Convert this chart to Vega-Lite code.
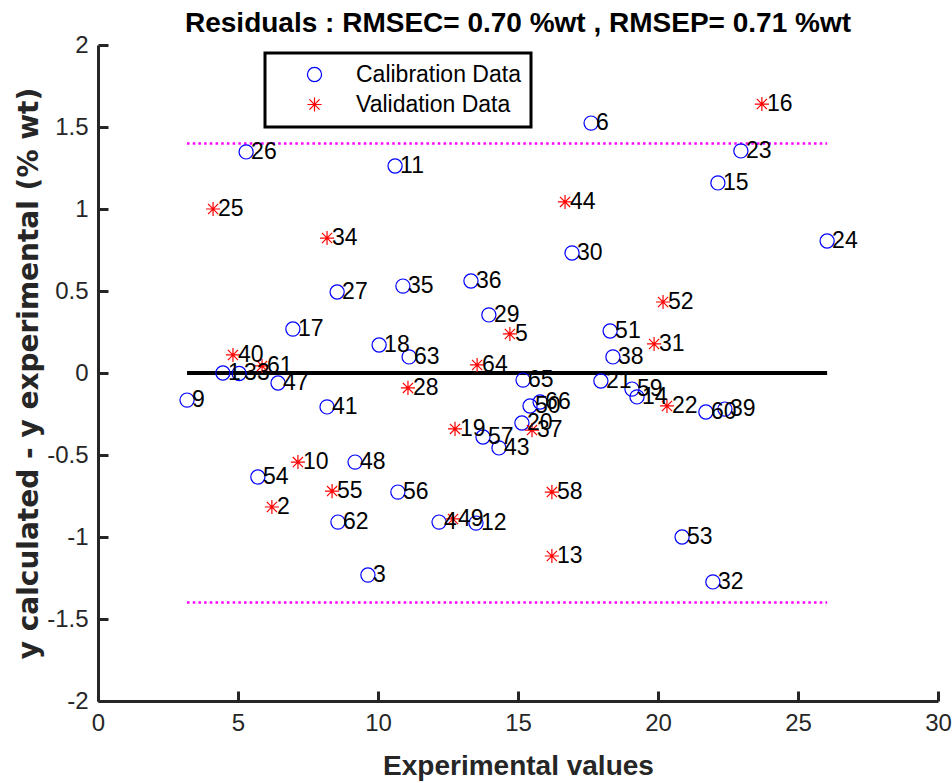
{
  "$schema": "https://vega.github.io/schema/vega-lite/v6.json",
  "width": 840,
  "height": 656,
  "autosize": "none",
  "padding": {"left": 98, "top": 45, "right": 14, "bottom": 82},
  "background": "white",
  "title": {
    "text": "Residuals : RMSEC= 0.70 %wt , RMSEP= 0.71 %wt",
    "font": "Liberation Sans",
    "fontSize": 28,
    "fontWeight": "bold",
    "color": "black",
    "anchor": "middle",
    "frame": "group",
    "offset": -5
  },
  "config": {
    "view": {"stroke": null},
    "font": "Liberation Sans",
    "legend": {"strokeWidth": 3},
    "axis": {
      "grid": false,
      "domainColor": "#262626",
      "domainWidth": 3,
      "tickColor": "#262626",
      "tickWidth": 3,
      "tickSize": -10,
      "labelFlush": false,
      "labelFont": "Liberation Sans",
      "labelFontSize": 24,
      "labelColor": "#262626",
      "titleFont": "Liberation Sans",
      "titleFontSize": 28,
      "titleFontWeight": "bold",
      "titleColor": "#262626"
    }
  },
  "datasets": {
    "pts": [
      {"x": 17.61, "y": 1.524, "id": "6", "set": "Calibration Data"},
      {"x": 5.29, "y": 1.348, "id": "26", "set": "Calibration Data"},
      {"x": 10.61, "y": 1.262, "id": "11", "set": "Calibration Data"},
      {"x": 22.96, "y": 1.354, "id": "23", "set": "Calibration Data"},
      {"x": 22.14, "y": 1.159, "id": "15", "set": "Calibration Data"},
      {"x": 26.04, "y": 0.805, "id": "24", "set": "Calibration Data"},
      {"x": 16.93, "y": 0.732, "id": "30", "set": "Calibration Data"},
      {"x": 13.32, "y": 0.561, "id": "36", "set": "Calibration Data"},
      {"x": 8.54, "y": 0.494, "id": "27", "set": "Calibration Data"},
      {"x": 10.89, "y": 0.53, "id": "35", "set": "Calibration Data"},
      {"x": 13.96, "y": 0.354, "id": "29", "set": "Calibration Data"},
      {"x": 6.96, "y": 0.268, "id": "17", "set": "Calibration Data"},
      {"x": 18.29, "y": 0.256, "id": "51", "set": "Calibration Data"},
      {"x": 10.04, "y": 0.171, "id": "18", "set": "Calibration Data"},
      {"x": 11.11, "y": 0.098, "id": "63", "set": "Calibration Data"},
      {"x": 18.39, "y": 0.098, "id": "38", "set": "Calibration Data"},
      {"x": 4.46, "y": 0.0, "id": "1", "set": "Calibration Data"},
      {"x": 5.04, "y": -0.003, "id": "33", "set": "Calibration Data"},
      {"x": 6.43, "y": -0.061, "id": "47", "set": "Calibration Data"},
      {"x": 3.18, "y": -0.165, "id": "9", "set": "Calibration Data"},
      {"x": 8.18, "y": -0.207, "id": "41", "set": "Calibration Data"},
      {"x": 15.18, "y": -0.043, "id": "65", "set": "Calibration Data"},
      {"x": 17.96, "y": -0.049, "id": "21", "set": "Calibration Data"},
      {"x": 19.07, "y": -0.098, "id": "59", "set": "Calibration Data"},
      {"x": 19.25, "y": -0.146, "id": "14", "set": "Calibration Data"},
      {"x": 21.71, "y": -0.238, "id": "60", "set": "Calibration Data"},
      {"x": 22.39, "y": -0.22, "id": "39", "set": "Calibration Data"},
      {"x": 15.43, "y": -0.201, "id": "50", "set": "Calibration Data"},
      {"x": 15.79, "y": -0.177, "id": "66", "set": "Calibration Data"},
      {"x": 15.14, "y": -0.305, "id": "20", "set": "Calibration Data"},
      {"x": 13.75, "y": -0.39, "id": "57", "set": "Calibration Data"},
      {"x": 14.32, "y": -0.457, "id": "43", "set": "Calibration Data"},
      {"x": 9.18, "y": -0.543, "id": "48", "set": "Calibration Data"},
      {"x": 5.71, "y": -0.634, "id": "54", "set": "Calibration Data"},
      {"x": 10.71, "y": -0.726, "id": "56", "set": "Calibration Data"},
      {"x": 8.57, "y": -0.909, "id": "62", "set": "Calibration Data"},
      {"x": 12.18, "y": -0.909, "id": "4", "set": "Calibration Data"},
      {"x": 13.5, "y": -0.915, "id": "12", "set": "Calibration Data"},
      {"x": 20.86, "y": -1.0, "id": "53", "set": "Calibration Data"},
      {"x": 21.96, "y": -1.274, "id": "32", "set": "Calibration Data"},
      {"x": 9.64, "y": -1.232, "id": "3", "set": "Calibration Data"},
      {"x": 23.71, "y": 1.64, "id": "16", "set": "Validation Data"},
      {"x": 4.11, "y": 1.0, "id": "25", "set": "Validation Data"},
      {"x": 16.68, "y": 1.043, "id": "44", "set": "Validation Data"},
      {"x": 8.18, "y": 0.823, "id": "34", "set": "Validation Data"},
      {"x": 20.18, "y": 0.433, "id": "52", "set": "Validation Data"},
      {"x": 14.71, "y": 0.238, "id": "5", "set": "Validation Data"},
      {"x": 19.86, "y": 0.177, "id": "31", "set": "Validation Data"},
      {"x": 4.82, "y": 0.11, "id": "40", "set": "Validation Data"},
      {"x": 5.86, "y": 0.043, "id": "61", "set": "Validation Data"},
      {"x": 13.54, "y": 0.049, "id": "64", "set": "Validation Data"},
      {"x": 11.07, "y": -0.091, "id": "28", "set": "Validation Data"},
      {"x": 20.32, "y": -0.201, "id": "22", "set": "Validation Data"},
      {"x": 12.75, "y": -0.341, "id": "19", "set": "Validation Data"},
      {"x": 15.5, "y": -0.348, "id": "37", "set": "Validation Data"},
      {"x": 12.68, "y": -0.89, "id": "49", "set": "Validation Data"},
      {"x": 7.14, "y": -0.543, "id": "10", "set": "Validation Data"},
      {"x": 8.36, "y": -0.72, "id": "55", "set": "Validation Data"},
      {"x": 6.21, "y": -0.817, "id": "2", "set": "Validation Data"},
      {"x": 16.21, "y": -0.726, "id": "58", "set": "Validation Data"},
      {"x": 16.21, "y": -1.116, "id": "13", "set": "Validation Data"}
    ],
    "limits": [
      {"lo": 3.18, "hi": 26.04, "y": 1.4},
      {"lo": 3.18, "hi": 26.04, "y": -1.4}
    ]
  },
  "layer": [
    {
      "data": {"name": "limits"},
      "mark": {"type": "rule", "color": "#FF00FF", "strokeWidth": 2.5, "strokeDash": [2.5, 3.2]},
      "encoding": {
        "x": {"field": "lo", "type": "quantitative", "scale": {"domain": [0, 30], "nice": false}},
        "x2": {"field": "hi"},
        "y": {"field": "y", "type": "quantitative", "scale": {"domain": [-2, 2], "nice": false}}
      }
    },
    {
      "data": {"name": "pts"},
      "mark": {"type": "rule", "color": "black", "strokeWidth": 4},
      "encoding": {
        "x": {"aggregate": "min", "field": "x", "type": "quantitative"},
        "x2": {"aggregate": "max", "field": "x"},
        "y": {"datum": 0, "type": "quantitative"}
      }
    },
    {
      "data": {"name": "pts"},
      "mark": {"type": "point", "filled": false, "strokeWidth": 1.2, "size": 200, "opacity": 1},
      "encoding": {
        "x": {
          "field": "x", "type": "quantitative",
          "scale": {"domain": [0, 30], "nice": false},
          "axis": {"values": [0, 5, 10, 15, 20, 25, 30], "title": "Experimental values", "labelPadding": 20, "titlePadding": 17}
        },
        "y": {
          "field": "y", "type": "quantitative",
          "scale": {"domain": [-2, 2], "nice": false},
          "axis": {"values": [-2, -1.5, -1, -0.5, 0, 0.5, 1, 1.5, 2], "labelExpr": "'' + datum.value", "title": "y calculated - y experimental (% wt)", "titleFont": "DejaVu Sans", "titleFontSize": 28, "labelPadding": 20, "titlePadding": 3}
        },
        "color": {
          "field": "set", "type": "nominal",
          "scale": {"domain": ["Calibration Data", "Validation Data"], "range": ["#0000FF", "#FF0000"]},
          "legend": {
            "title": null, "orient": "none", "legendX": 167, "legendY": 8,
            "strokeColor": "black", "fillColor": "white",
            "padding": 10, "symbolOffset": 28, "labelOffset": 30,
            "labelFontSize": 23, "labelColor": "black", "labelLimit": 400, "symbolSize": 200,
            "symbolStrokeWidth": 1.2, "rowPadding": 6
          }
        },
        "shape": {
          "field": "set", "type": "nominal",
          "scale": {"domain": ["Calibration Data", "Validation Data"], "range": ["circle", "M0,-1L0,1M-1,0L1,0M-0.72,-0.72L0.72,0.72M-0.72,0.72L0.72,-0.72"]},
          "legend": null
        }
      }
    },
    {
      "data": {"name": "pts"},
      "mark": {"type": "text", "align": "left", "baseline": "middle", "dx": 5, "fontSize": 23, "color": "black", "font": "Liberation Sans"},
      "encoding": {
        "x": {"field": "x", "type": "quantitative"},
        "y": {"field": "y", "type": "quantitative"},
        "text": {"field": "id"}
      }
    }
  ]
}
